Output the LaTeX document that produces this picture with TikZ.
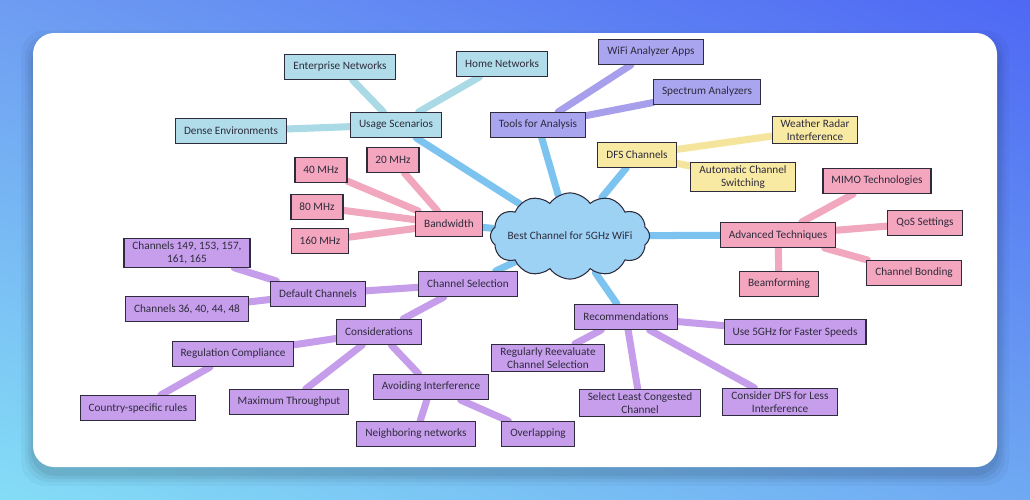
\documentclass[tikz,border=0pt]{standalone}
\usepackage{fontspec}
\setmainfont{Carlito}
\usepackage{xcolor}
\definecolor{bgtl}{HTML}{6E9CF2}
\definecolor{bgtr}{HTML}{4E68F4}
\definecolor{bgbl}{HTML}{84DDF6}
\definecolor{bgbr}{HTML}{6FA9F2}
\definecolor{ink}{HTML}{2E2B3C}
\definecolor{cloudfill}{HTML}{9DD2F5}
\definecolor{mainline}{HTML}{7DC3F0}
\definecolor{usagefill}{HTML}{B0DDE9}
\definecolor{usageline}{HTML}{A9DAE6}
\definecolor{toolfill}{HTML}{A9A5EF}
\definecolor{toolline}{HTML}{A79FEB}
\definecolor{dfsfill}{HTML}{F8E9A3}
\definecolor{dfsline}{HTML}{F5E59C}
\definecolor{pinkfill}{HTML}{F3A6BD}
\definecolor{pinkline}{HTML}{F1A7BD}
\definecolor{purpfill}{HTML}{C79EEC}
\definecolor{purpline}{HTML}{C59DEA}
\usepackage{tikz}
\usetikzlibrary{positioning, shapes.symbols, shadings, calc}
\pgfdeclarelayer{back}
\pgfdeclarelayer{lines}
\pgfsetlayers{back,lines,main}
\tikzset{
    box/.style = {rectangle, draw=ink, line width=0.6pt, text=ink,
                  minimum height=5mm, inner xsep=1.7mm, inner ysep=0.6mm,
                  align=center, font=\fontsize{6.4pt}{7.6pt}\selectfont},
    usage/.style = {box, fill=usagefill},
    tool/.style = {box, fill=toolfill},
    dfs/.style = {box, fill=dfsfill},
    bw/.style = {box, fill=pinkfill},
    chan/.style = {box, fill=purpfill},
    topic/.style = {cloud, cloud puffs=12, cloud puff arc=110, draw=ink,
                    line width=0.6pt, fill=cloudfill, text=ink, aspect=2.3,
                    minimum width=27mm, minimum height=12mm, inner sep=-1.5mm,
                    font=\fontsize{6.4pt}{7.6pt}\selectfont},
    link/.style = {line width=4pt, line cap=round},
}

\begin{document}
\begin{tikzpicture}[x=0.2mm, y=-0.2mm]
    \useasboundingbox (0,0) rectangle (1030,500);
    \begin{pgfonlayer}{back}
        \shade[upper left=bgtl, upper right=bgtr, lower left=bgbl, lower right=bgbr]
            (0,0) rectangle (1030,500);
        % card shadow
        \foreach \s/\o in {12/0.03, 8/0.04, 5/0.05, 2/0.06}
            \fill[black, opacity=\o, rounded corners=14]
                (33-\s,42-\s) rectangle (997+\s,474+\s);
        \fill[white, rounded corners=12] (33,33) rectangle (997,467);
    \end{pgfonlayer}

    % centre
    \node[topic] (root) at (570,236) {Best Channel for 5GHz WiFi};

    % usage scenarios
    \node[usage] (usc) at (396,125) {Usage Scenarios};
    \node[usage] (ent) at (340,67)  {Enterprise Networks};
    \node[usage] (home) at (502,64) {Home Networks};
    \node[usage] (dense) at (231,131) {Dense Environments};

    % tools
    \node[tool] (tfa) at (538,125) {Tools for Analysis};
    \node[tool] (wfa) at (651,52)  {WiFi Analyzer Apps};
    \node[tool] (spa) at (707,92)  {Spectrum Analyzers};

    % dfs
    \node[dfs] (dfs) at (637,155) {DFS Channels};
    \node[dfs] (wri) at (815,130) {Weather Radar\\Interference};
    \node[dfs] (acs) at (743,177) {Automatic Channel\\Switching};

    % bandwidth
    \node[bw] (bwd) at (449,224) {Bandwidth};
    \node[bw] (m20) at (393,160) {20 MHz};
    \node[bw] (m40) at (321,170) {40 MHz};
    \node[bw] (m80) at (317,207) {80 MHz};
    \node[bw] (m160) at (320,241) {160 MHz};

    % advanced techniques
    \node[bw] (adv) at (778,235) {Advanced Techniques};
    \node[bw] (mimo) at (877,181) {MIMO Technologies};
    \node[bw] (qos) at (925,223) {QoS Settings};
    \node[bw] (cbond) at (914,273) {Channel Bonding};
    \node[bw] (beam) at (779,284) {Beamforming};

    % channel selection
    \node[chan] (csel) at (468,284) {Channel Selection};
    \node[chan] (defc) at (318,294) {Default Channels};
    \node[chan] (hi) at (187,253) {Channels 149, 153, 157,\\161, 165};
    \node[chan] (lo) at (187,309) {Channels 36, 40, 44, 48};
    \node[chan] (cons) at (379,332) {Considerations};
    \node[chan] (reg) at (233,354) {Regulation Compliance};
    \node[chan] (ctry) at (138,408) {Country-specific rules};
    \node[chan] (maxt) at (289,402) {Maximum Throughput};
    \node[chan] (avoid) at (431,387) {Avoiding Interference};
    \node[chan] (neigh) at (416,434) {Neighboring networks};
    \node[chan] (ovl) at (538,434) {Overlapping};

    % recommendations
    \node[chan] (rec) at (626,317) {Recommendations};
    \node[chan] (rre) at (548,358) {Regularly Reevaluate\\Channel Selection};
    \node[chan] (slc) at (640,403) {Select Least Congested\\Channel};
    \node[chan] (cdfs) at (780,402) {Consider DFS for Less\\Interference};
    \node[chan] (u5g) at (795,332) {Use 5GHz for Faster Speeds};

    \begin{pgfonlayer}{lines}
        \foreach \b in {usc, tfa, dfs, bwd, adv, csel, rec}
            \draw[link, mainline] (root) -- (\b);
        \foreach \b in {ent, home, dense}
            \draw[link, usageline] (usc) -- (\b);
        \foreach \b in {wfa, spa}
            \draw[link, toolline] (tfa) -- (\b);
        \foreach \b in {wri, acs}
            \draw[link, dfsline] (dfs) -- (\b);
        \foreach \b in {m20, m40, m80, m160}
            \draw[link, pinkline] (bwd) -- (\b);
        \foreach \b in {mimo, qos, cbond, beam}
            \draw[link, pinkline] (adv) -- (\b);
        \foreach \a/\b in {csel/defc, defc/hi, defc/lo, csel/cons, cons/reg,
                           reg/ctry, cons/maxt, cons/avoid, avoid/neigh,
                           avoid/ovl, rec/rre, rec/slc, rec/cdfs, rec/u5g}
            \draw[link, purpline] (\a) -- (\b);
    \end{pgfonlayer}
\end{tikzpicture}
\end{document}
